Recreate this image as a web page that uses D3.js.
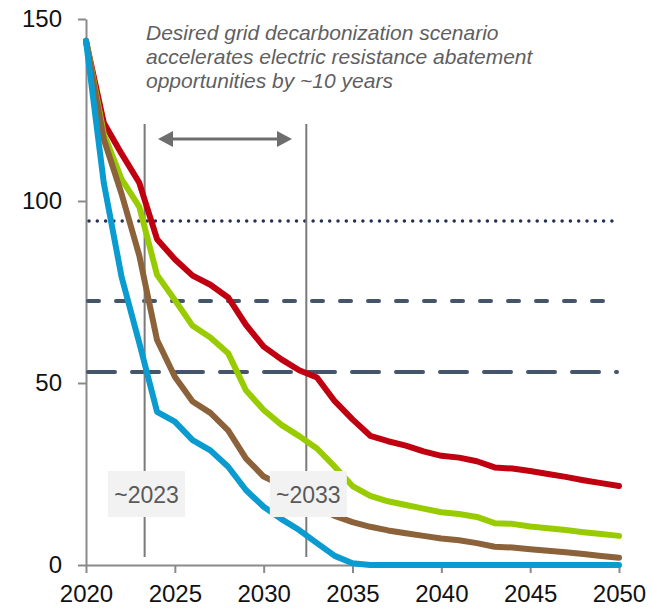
<!DOCTYPE html>
<html>
<head>
<meta charset="utf-8">
<script src="https://cdn.jsdelivr.net/npm/d3@7"></script>
<style>
  html, body { margin: 0; padding: 0; background: #fff; }
  svg { display: block; font-family: "Liberation Sans", Arial, sans-serif; }
</style>
</head>
<body>
<svg id="chart" width="651" height="608"></svg>
<script>
const years = d3.range(2020, 2051);
const redValues   = [144, 121.5, 113, 105, 89.5, 84, 79.5, 77, 73.5, 66, 60, 56.5, 53.5, 51.5, 45, 40, 35.5, 34, 32.8, 31.2, 30, 29.5, 28.5, 26.8, 26.5, 25.8, 25, 24.2, 23.3, 22.5, 21.7];
const greenValues = [144, 118.5, 106, 98.4, 79.7, 72.8, 65.7, 62.5, 58.2, 48, 42.6, 38.5, 35.4, 32, 27, 21.7, 19, 17.5, 16.5, 15.5, 14.5, 14, 13.2, 11.5, 11.3, 10.6, 10.1, 9.6, 9.0, 8.5, 8.0];
const brownValues = [144, 117, 102, 85, 61.8, 51.7, 44.9, 41.8, 37, 29.3, 24.3, 22, 19.5, 16, 13.5, 11.8, 10.5, 9.5, 8.7, 8.0, 7.3, 6.8, 6.0, 5.0, 4.8, 4.3, 3.9, 3.5, 3.0, 2.5, 2.0];
const blueValues  = [144, 105, 79.2, 61, 42.1, 39.4, 34.3, 31.5, 27, 20.6, 16, 12.6, 9.6, 6, 2.5, 0.5, 0, 0, 0, 0, 0, 0, 0, 0, 0, 0, 0, 0, 0, 0, 0];
const seriesNames  = ["red", "green", "brown", "blue"];
const seriesColors = ["#c00010", "#99cc00", "#8b6239", "#0a9bd0"];
const seriesData   = [redValues, greenValues, brownValues, blueValues];

const yTicks = [0, 50, 100, 150];
const xTicks = [2020, 2025, 2030, 2035, 2040, 2045, 2050];

const refDotted = 94.5;
const refDashUpper = 72.5;
const refDashLower = 53;
const markerYears = [2023.3, 2032.4];
const markerLabels = ["~2023", "~2033"];
const noteLines = ["Desired grid decarbonization scenario", "accelerates electric resistance abatement", "opportunities by ~10 years"];

const svg = d3.select("#chart");
const x = d3.scaleLinear().domain([2020, 2050]).range([86, 619]);
const y = d3.scaleLinear().domain([0, 150]).range([565, 19]);

// axes
const axisColor = "#8a8a8a";
const yAxis = svg.append("g").attr("transform", `translate(${x(2020)},0)`)
  .call(d3.axisLeft(y).tickValues(yTicks).tickSize(8).tickSizeOuter(0).tickPadding(16));
const xAxis = svg.append("g").attr("transform", `translate(0,${y(0)})`)
  .call(d3.axisBottom(x).tickValues(xTicks).tickFormat(d3.format("d")).tickSize(8).tickSizeOuter(0).tickPadding(12));
[yAxis, xAxis].forEach(g => {
  g.select(".domain").attr("stroke", axisColor).attr("stroke-width", 2);
  g.selectAll(".tick line").attr("stroke", axisColor).attr("stroke-width", 2);
  g.selectAll(".tick text").attr("fill", "#111").style("font-size", "24px")
    .style("font-family", "'Liberation Sans', Arial, sans-serif");
});

// reference lines
const x0 = x(2020), x1 = x(2050) - 2;
svg.append("line").attr("x1", x0 + 3).attr("x2", x1).attr("y1", y(refDotted)).attr("y2", y(refDotted))
  .attr("stroke", "#262f55").attr("stroke-width", 3.5).attr("stroke-linecap", "round")
  .attr("stroke-dasharray", "0,8.3");
svg.append("line").attr("x1", x0 + 2).attr("x2", x1).attr("y1", y(refDashUpper)).attr("y2", y(refDashUpper))
  .attr("stroke", "#44546a").attr("stroke-width", 4).attr("stroke-linecap", "round")
  .attr("stroke-dasharray", "11,17");
svg.append("line").attr("x1", x0 + 2).attr("x2", x1).attr("y1", y(refDashLower)).attr("y2", y(refDashLower))
  .attr("stroke", "#44546a").attr("stroke-width", 4).attr("stroke-linecap", "round")
  .attr("stroke-dasharray", "27,17");

// vertical marker lines
markerYears.forEach(v => {
  svg.append("line").attr("x1", x(v)).attr("x2", x(v)).attr("y1", 124).attr("y2", 557)
    .attr("stroke", "#7a7a7a").attr("stroke-width", 2);
});

// double arrow
const arrowColor = "#6e6e6e";
const ay = 139, ax1 = 158, ax2 = 292;
svg.append("line").attr("x1", ax1 + 12).attr("x2", ax2 - 12).attr("y1", ay).attr("y2", ay)
  .attr("stroke", arrowColor).attr("stroke-width", 3);
svg.append("path").attr("d", `M${ax1},${ay} L${ax1 + 15},${ay - 8} L${ax1 + 15},${ay + 8} Z`).attr("fill", arrowColor);
svg.append("path").attr("d", `M${ax2},${ay} L${ax2 - 15},${ay - 8} L${ax2 - 15},${ay + 8} Z`).attr("fill", arrowColor);

// series
const line = d3.line().x((d, i) => x(years[i])).y(d => y(d));
seriesData.forEach((vals, i) => {
  svg.append("path").datum(vals).attr("d", line)
    .attr("fill", "none").attr("stroke", seriesColors[i]).attr("stroke-width", 6)
    .attr("stroke-linejoin", "round").attr("stroke-linecap", "round");
});

// marker labels
markerYears.forEach((v, i) => {
  const cx = x(v) + 2;
  svg.append("rect").attr("x", cx - 38.5).attr("y", 471).attr("width", 77).attr("height", 46).attr("fill", "#f2f2f2");
  svg.append("text").attr("x", cx).attr("y", 503).attr("text-anchor", "middle")
    .attr("fill", "#595959").style("font-size", "23px").text(markerLabels[i]);
});

// annotation
const note = svg.append("text").attr("fill", "#5f5f5f").style("font-size", "21px").style("font-style", "italic");
noteLines.forEach((t, i) => {
  note.append("tspan").attr("x", 146).attr("y", 40 + i * 24).text(t);
});
</script>
</body>
</html>
